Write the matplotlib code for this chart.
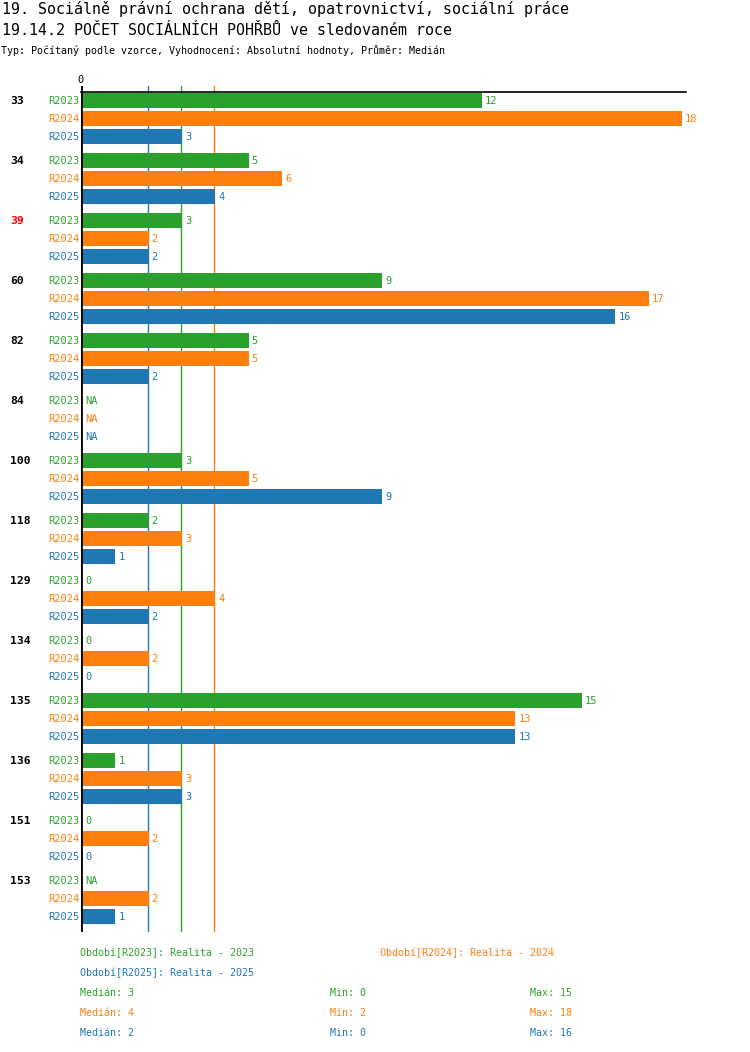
import numpy as np
import matplotlib
matplotlib.use("Agg")
import matplotlib.pyplot as plt

plt.rcParams['font.family'] = ['DejaVu Sans Mono']

# data (NaN = NA)
categories = ['33', '34', '39', '60', '82', '84', '100', '118', '129', '134', '135', '136', '151', '153']
series = ['R2023', 'R2024', 'R2025']
r2023 = [12, 5, 3, 9, 5, np.nan, 3, 2, 0, 0, 15, 1, 0, np.nan]
r2024 = [18, 6, 2, 17, 5, np.nan, 5, 3, 4, 2, 13, 3, 2, 2]
r2025 = [3, 4, 2, 16, 2, np.nan, 9, 1, 2, 0, 13, 3, 0, 1]
highlight = '39'
legend_names = ['Období[R2023]: Realita - 2023', 'Období[R2024]: Realita - 2024',
                'Období[R2025]: Realita - 2025']

colors = ['#2ca02c', '#ff7f0e', '#1f77b4']
values = [np.array(r2023, float), np.array(r2024, float), np.array(r2025, float)]

W, H = 750, 1052
fig = plt.figure(figsize=(W / 100, H / 100), dpi=100)

# axes in pixel placement
ax_l, ax_r, ax_t, ax_b = 81, 686, 86, 932
ax = fig.add_axes([ax_l / W, 1 - ax_b / H, (ax_r - ax_l) / W, (ax_b - ax_t) / H])
unit = 33.33
xmax = (ax_r - ax_l) / unit
group_pitch, bar_pitch, bar_h = 60, 18, 15
n = len(categories)
ax.set_xlim(0, xmax)
ax.set_ylim((n - 1) * group_pitch + 2 * bar_pitch + 15.5, -14.5)
ax.axis('off')

# median lines (behind bars)
for j in range(3):
    ax.axvline(np.nanmedian(values[j]), color=colors[j], lw=1, zorder=1)

for i, cat in enumerate(categories):
    for j in range(3):
        y = i * group_pitch + j * bar_pitch
        v = values[j][i]
        if np.isnan(v):
            txt, xv = 'NA', 0
        else:
            ax.barh(y, v, height=bar_h, left=0.03, color=colors[j], zorder=2)
            txt, xv = '%d' % v, v
        ax.text(xv + 0.12, y, txt, color=colors[j], fontsize=7.5, va='center', ha='left', zorder=3)
        ax.text(-0.06, y, series[j], color=colors[j], fontsize=7.5, va='center', ha='right',
                clip_on=False)
    ax.text(-2.12, i * group_pitch, cat, color='red' if cat == highlight else 'black',
            fontsize=8.2, fontweight='bold', va='center', ha='left', clip_on=False)

ax.axvline(0, color='black', lw=2, zorder=4)
ax.plot([0, xmax], [-8.5, -8.5], color='black', lw=1.2, zorder=4, clip_on=False)
ax.text(0, -20.5, '0', fontsize=7.5, ha='center', va='center', clip_on=False)

# titles
fig.text(2 / W, 1 - 9 / H, '19. Sociálně právní ochrana dětí, opatrovnictví, sociální práce',
         fontsize=10.8, va='center', ha='left')
fig.text(2 / W, 1 - 30 / H, '19.14.2 POČET SOCIÁLNÍCH POHŘBŮ ve sledovaném roce',
         fontsize=10.8, va='center', ha='left')
fig.text(1 / W, 1 - 50 / H, 'Typ: Počítaný podle vzorce, Vyhodnocení: Absolutní hodnoty, Průměr: Medián',
         fontsize=7.2, va='center', ha='left')

# legend
leg_pos = [(80, 953), (380, 953), (80, 973)]
for j in range(3):
    x, y = leg_pos[j]
    fig.text(x / W, 1 - y / H, legend_names[j], color=colors[j], fontsize=7.2, va='center')

for j in range(3):
    y = 993 + 20 * j
    v = values[j]
    fig.text(80 / W, 1 - y / H, 'Medián: %g' % np.nanmedian(v), color=colors[j], fontsize=7.2, va='center')
    fig.text(330 / W, 1 - y / H, 'Min: %g' % np.nanmin(v), color=colors[j], fontsize=7.2, va='center')
    fig.text(530 / W, 1 - y / H, 'Max: %g' % np.nanmax(v), color=colors[j], fontsize=7.2, va='center')

fig.savefig('out.png', dpi=100)
